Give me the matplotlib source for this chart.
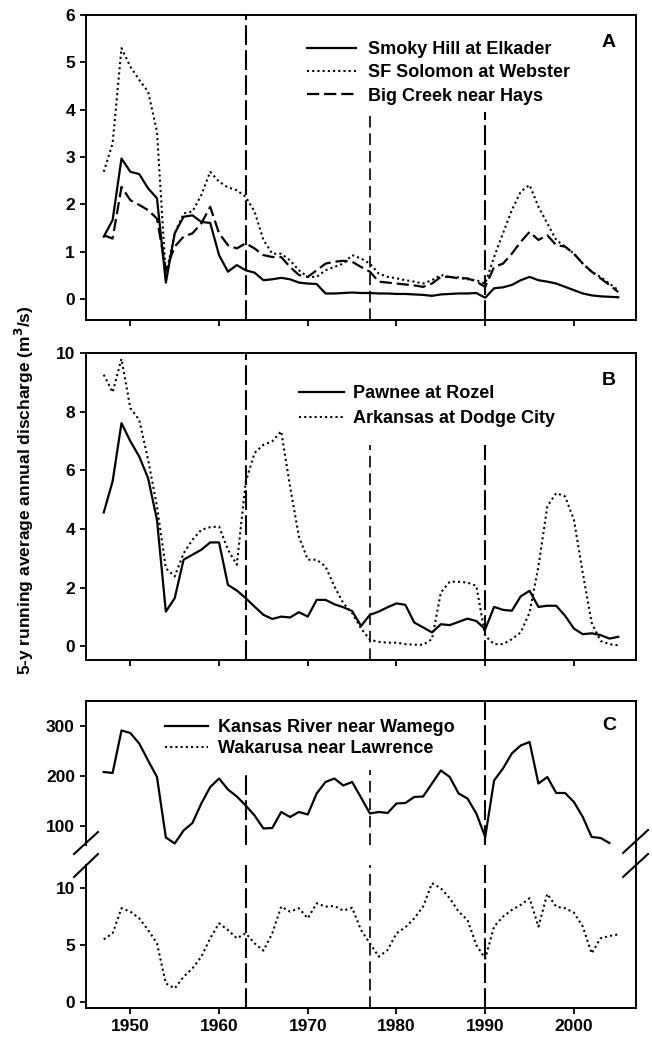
import numpy as np
import matplotlib
matplotlib.use('Agg')
import matplotlib.pyplot as plt
from matplotlib.lines import Line2D

plt.rcParams['font.family'] = ['Liberation Sans', 'DejaVu Sans']
plt.rcParams['font.weight'] = 'bold'

# 年份 (5年滑动平均)
years = np.arange(1947, 2006)

# 面板 A
smoky_hill = [1.32, 1.67, 2.97, 2.69, 2.64, 2.34, 2.13, 0.35, 1.39, 1.74,
              1.77, 1.63, 1.61, 0.93, 0.58, 0.72, 0.61, 0.56, 0.40, 0.42,
              0.45, 0.42, 0.35, 0.33, 0.32, 0.12, 0.12, 0.13, 0.14, 0.13,
              0.13, 0.12, 0.12, 0.11, 0.11, 0.10, 0.09, 0.07, 0.10, 0.11,
              0.12, 0.12, 0.13, 0.03, 0.23, 0.25, 0.30, 0.40, 0.47, 0.40,
              0.37, 0.33, 0.26, 0.19, 0.12, 0.08, 0.06, 0.05, 0.04]
sf_solomon = [2.69, 3.29, 5.30, 4.91, 4.63, 4.38, 3.54, 0.50, 1.39, 1.81,
              1.85, 2.20, 2.69, 2.48, 2.36, 2.30, 2.16, 1.85, 1.25, 0.96,
              0.96, 0.82, 0.61, 0.47, 0.47, 0.61, 0.68, 0.75, 0.93, 0.86,
              0.75, 0.54, 0.47, 0.44, 0.40, 0.37, 0.33, 0.40, 0.51, 0.47,
              0.46, 0.42, 0.40, 0.33, 0.89, 1.39, 1.88, 2.27, 2.41, 1.95,
              1.60, 1.25, 1.11, 0.96, 0.75, 0.58, 0.47, 0.33, 0.19]
big_creek = [1.35, 1.28, 2.37, 2.09, 1.99, 1.88, 1.70, 0.62, 1.11, 1.32,
             1.39, 1.60, 1.95, 1.39, 1.14, 1.07, 1.18, 1.07, 0.93, 0.89,
             0.89, 0.68, 0.51, 0.47, 0.61, 0.75, 0.79, 0.81, 0.79, 0.68,
             0.58, 0.37, 0.35, 0.33, 0.31, 0.29, 0.26, 0.33, 0.47, 0.47,
             0.44, 0.44, 0.37, 0.26, 0.68, 0.75, 0.96, 1.21, 1.42, 1.25,
             1.35, 1.14, 1.11, 0.96, 0.75, 0.58, 0.44, 0.30, 0.15]

# 面板 B
pawnee = [4.56, 5.62, 7.61, 6.99, 6.47, 5.73, 4.31, 1.18, 1.64, 2.95,
          3.12, 3.29, 3.54, 3.54, 2.09, 1.90, 1.64, 1.35, 1.07, 0.93,
          1.01, 0.98, 1.16, 1.01, 1.58, 1.58, 1.43, 1.33, 1.20, 0.69,
          1.07, 1.18, 1.33, 1.46, 1.41, 0.81, 0.64, 0.47, 0.75, 0.72,
          0.83, 0.94, 0.86, 0.58, 1.34, 1.24, 1.21, 1.70, 1.89, 1.34,
          1.38, 1.38, 1.04, 0.60, 0.41, 0.44, 0.38, 0.26, 0.32]
arkansas = [9.26, 8.66, 9.80, 8.12, 7.72, 6.36, 4.77, 2.66, 2.38, 3.17,
            3.63, 3.97, 4.06, 4.08, 3.29, 2.78, 5.60, 6.59, 6.87, 6.99,
            7.33, 5.45, 3.74, 2.95, 2.95, 2.72, 2.04, 1.47, 1.13, 0.61,
            0.22, 0.15, 0.12, 0.12, 0.07, 0.05, 0.05, 0.24, 1.83, 2.20,
            2.20, 2.17, 2.06, 0.35, 0.07, 0.07, 0.24, 0.47, 1.15, 2.72,
            4.77, 5.22, 5.11, 4.31, 2.49, 0.80, 0.18, 0.07, 0.03]

# 面板 C
kansas = [208, 206, 291, 286, 265, 231, 198, 77, 65, 91,
          106, 145, 178, 195, 173, 159, 141, 121, 95, 96,
          128, 118, 128, 123, 165, 188, 195, 181, 188, 157,
          125, 128, 126, 145, 146, 158, 159, 185, 211, 198,
          165, 155, 125, 78, 191, 215, 245, 261, 268, 185,
          198, 166, 166, 148, 118, 78, 76, 66]
wakarusa = [5.50, 6.03, 8.24, 7.94, 7.35, 6.32, 5.15, 1.62, 1.18, 2.20,
            2.94, 3.97, 5.59, 6.91, 6.32, 5.59, 6.03, 5.15, 4.50, 6.03,
            8.38, 7.94, 8.24, 7.35, 8.68, 8.38, 8.44, 8.03, 8.28, 6.32,
            5.15, 3.97, 4.56, 6.03, 6.56, 7.35, 8.38, 10.44, 10.00, 9.12,
            7.94, 7.21, 5.00, 3.80, 6.62, 7.50, 8.09, 8.53, 9.12, 6.62,
            9.50, 8.38, 8.24, 7.85, 6.62, 4.26, 5.59, 5.79, 5.94]

break_years = [1963, 1977, 1990]
xticks = [1950, 1960, 1970, 1980, 1990, 2000]

fig = plt.figure(figsize=(6.52, 10.41), dpi=100)
L, W = 0.1319, 0.8436
axA = fig.add_axes([L, 0.6926, W, 0.2930])
axB = fig.add_axes([L, 0.3660, W, 0.2949])
axCu = fig.add_axes([L, 0.1883, W, 0.1383])
axCl = fig.add_axes([L, 0.0317, W, 0.1374])

solid = dict(color='black', lw=1.6, ls='-')
dotted = dict(color='black', lw=1.5, ls=(0, (1, 1.5)))
dashed = dict(color='black', lw=1.6, ls=(0, (5.5, 2.2)))

for ax in [axA, axB, axCu, axCl]:
    ax.set_xlim(1945, 2007)
    ax.set_xticks(xticks)
    for s in ax.spines.values():
        s.set_linewidth(1.4)
    ax.tick_params(direction='out', length=4.5, width=1.3, labelsize=12.5)

# 竖直虚线 (年份, 线型, 线宽)
vstyle = {1963: ((0, (9.5, 2.5)), 1.5), 1977: ((0, (7, 3.5)), 1.2), 1990: ((0, (9.5, 2.5)), 1.5)}

def vlines(ax, tops):
    lo = ax.get_ylim()[0]
    for yr, top in zip(break_years, tops):
        ls, lw = vstyle[yr]
        ax.plot([yr, yr], [lo, top], color='black', ls=ls, lw=lw, zorder=1)

leg_kw = dict(loc='upper left', frameon=False, fontsize=13, borderpad=0, borderaxespad=0)

# A
axA.set_ylim(-0.44, 6)
axA.set_yticks([0, 1, 2, 3, 4, 5, 6])
axA.tick_params(labelbottom=False)
vlines(axA, [6, 3.95, 3.95])
axA.plot(years, smoky_hill, label='Smoky Hill at Elkader', **solid)
axA.plot(years, sf_solomon, label='SF Solomon at Webster', **dotted)
axA.plot(years, big_creek, label='Big Creek near Hays', **dashed)
axA.legend(bbox_to_anchor=(0.402, 0.915), handlelength=2.7, handletextpad=0.67,
           labelspacing=0.35, **leg_kw)
axA.text(0.951, 0.911, 'A', transform=axA.transAxes, ha='center', va='center',
         fontsize=14, fontweight='bold')

# B
axB.set_ylim(-0.47, 10)
axB.set_yticks([0, 2, 4, 6, 8, 10])
axB.tick_params(labelbottom=False)
vlines(axB, [10, 6.86, 6.86])
axB.plot(years, pawnee, label='Pawnee at Rozel', **solid)
axB.plot(years, arkansas, label='Arkansas at Dodge City', **dotted)
axB.legend(bbox_to_anchor=(0.388, 0.895), handlelength=2.45, handletextpad=0.5,
           labelspacing=0.45, **leg_kw)
axB.text(0.951, 0.912, 'B', transform=axB.transAxes, ha='center', va='center',
         fontsize=14, fontweight='bold')

# C 上半部分
axCu.set_ylim(62, 350)
axCu.set_yticks([100, 200, 300])
axCu.spines['bottom'].set_visible(False)
axCu.tick_params(bottom=False, labelbottom=False)
vlines(axCu, [212, 212, 350])
axCu.plot(years[:len(kansas)], kansas, label='Kansas River near Wamego', **solid)
axCu.plot([], [], label='Wakarusa near Lawrence', **dotted)
axCu.legend(bbox_to_anchor=(0.144, 0.876), handlelength=2.35, handletextpad=0.55,
            labelspacing=0.25, **leg_kw)
axCu.text(0.951, 0.83, 'C', transform=axCu.transAxes, ha='center', va='center',
          fontsize=14, fontweight='bold')

# C 下半部分
axCl.set_ylim(-0.55, 12.05)
axCl.set_yticks([0, 5, 10])
axCl.spines['top'].set_visible(False)
vlines(axCl, [12.05, 12.05, 12.05])
axCl.plot(years, wakarusa, **dotted)

# 断轴标记和右侧连续边框
def px(x, y):
    return x / 652, 1 - y / 1041

for (x0, y0, x1, y1) in [(74, 854, 98, 832), (74, 877, 98, 854),
                         (623, 853, 648, 830), (623, 877, 648, 854)]:
    a, b = px(x0, y0)
    c, d = px(x1, y1)
    fig.add_artist(Line2D([a, c], [b, d], color='black', lw=1.5))
xr = L + W
fig.add_artist(Line2D([xr, xr], [0.1883, 0.1691], color='black', lw=1.4))

fig.text(0.038, 0.529, '5-y running average annual discharge (m$^\\mathbf{3}$/s)',
         rotation=90, ha='center', va='center', fontsize=12.5, fontweight='bold')

plt.savefig('out.png', dpi=100)
plt.close()
